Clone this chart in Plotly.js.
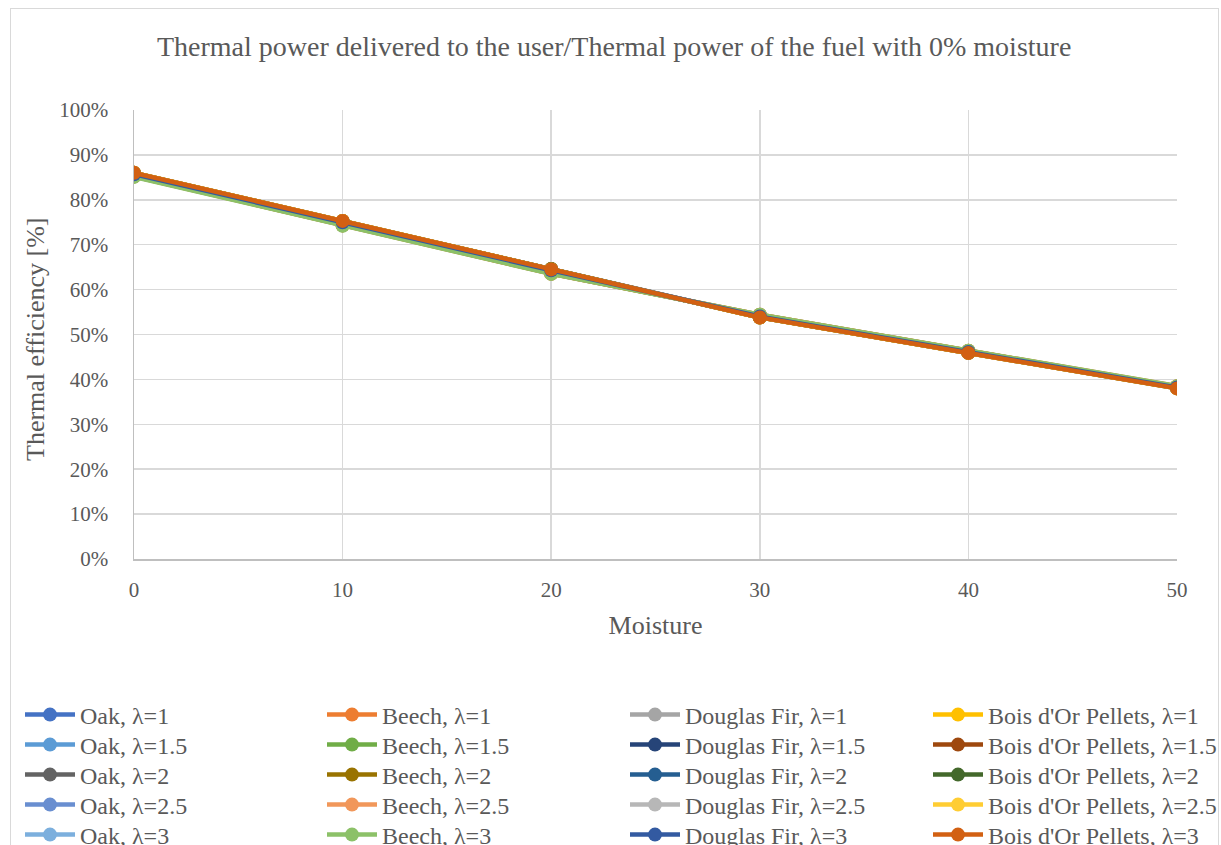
<!DOCTYPE html>
<html>
<head>
<meta charset="utf-8">
<script src="https://cdn.plot.ly/plotly-3.0.1.min.js"></script>
<style>
  html, body { margin: 0; padding: 0; background: #fff; }
  #wrap { position: relative; width: 1221px; height: 845px; overflow: hidden; }
  #chart { position: absolute; left: 0; top: 0; width: 1221px; height: 845px; }
  #frame { position: absolute; left: 10px; top: 8px; width: 1207px; height: 900px;
           border: 1.5px solid #D9D9D9; pointer-events: none; }
</style>
</head>
<body>
<div id="wrap">
  <div id="chart"></div>
  <div id="frame"></div>
</div>
<script>
// Moisture [%]
const moisture = [0, 10, 20, 30, 40, 50];

// Thermal efficiency [%] (curves overlap closely)
const oak_l1   = [85.6, 74.9, 64.2, 54.0, 46.1, 38.2];
const oak_l15  = [85.6, 74.8, 64.1, 54.0, 46.1, 38.2];
const oak_l2   = [85.5, 74.8, 64.1, 54.1, 46.1, 38.2];
const oak_l25  = [85.5, 74.7, 64.0, 54.1, 46.2, 38.3];
const oak_l3   = [85.4, 74.7, 64.0, 54.1, 46.2, 38.3];

const beech_l1  = [85.3, 74.4, 63.7, 54.3, 46.3, 38.4];
const beech_l15 = [85.3, 74.4, 63.6, 54.3, 46.3, 38.4];
const beech_l2  = [85.2, 74.3, 63.6, 54.4, 46.4, 38.4];
const beech_l25 = [85.2, 74.3, 63.5, 54.4, 46.4, 38.5];
const beech_l3  = [85.1, 74.2, 63.5, 54.4, 46.4, 38.5];

const fir_l1   = [85.8, 75.1, 64.4, 53.9, 46.0, 38.1];
const fir_l15  = [85.8, 75.1, 64.4, 53.9, 46.0, 38.1];
const fir_l2   = [85.7, 75.0, 64.3, 53.9, 46.0, 38.2];
const fir_l25  = [85.7, 75.0, 64.3, 54.0, 46.1, 38.2];
const fir_l3   = [85.7, 75.0, 64.3, 54.0, 46.1, 38.2];

const bois_l1  = [86.0, 75.3, 64.6, 53.8, 45.9, 38.1];
const bois_l15 = [86.0, 75.3, 64.6, 53.8, 45.9, 38.1];
const bois_l2  = [86.0, 75.3, 64.6, 53.8, 45.9, 38.0];
const bois_l25 = [86.0, 75.3, 64.5, 53.8, 45.9, 38.0];
const bois_l3  = [86.0, 75.3, 64.5, 53.8, 45.9, 38.0];

const yTickVals  = [0, 10, 20, 30, 40, 50, 60, 70, 80, 90, 100];
const yTickText  = ['0%','10%','20%','30%','40%','50%','60%','70%','80%','90%','100%'];
const xTickVals  = [0, 10, 20, 30, 40, 50];

// Series in the order Excel stored them (legend is row-major): name, values, colour, legend row, legend column
const series = [
  ['Oak, λ=1', oak_l1, '#4472C4', 0, 0],
  ['Beech, λ=1', beech_l1, '#ED7D31', 0, 1],
  ['Douglas Fir, λ=1', fir_l1, '#A5A5A5', 0, 2],
  ["Bois d'Or Pellets, λ=1", bois_l1, '#FFC000', 0, 3],
  ['Oak, λ=1.5', oak_l15, '#5B9BD5', 1, 0],
  ['Beech, λ=1.5', beech_l15, '#70AD47', 1, 1],
  ['Douglas Fir, λ=1.5', fir_l15, '#264478', 1, 2],
  ["Bois d'Or Pellets, λ=1.5", bois_l15, '#9E480E', 1, 3],
  ['Oak, λ=2', oak_l2, '#636363', 2, 0],
  ['Beech, λ=2', beech_l2, '#997300', 2, 1],
  ['Douglas Fir, λ=2', fir_l2, '#255E91', 2, 2],
  ["Bois d'Or Pellets, λ=2", bois_l2, '#43682B', 2, 3],
  ['Oak, λ=2.5', oak_l25, '#698ED0', 3, 0],
  ['Beech, λ=2.5', beech_l25, '#F1975A', 3, 1],
  ['Douglas Fir, λ=2.5', fir_l25, '#B7B7B7', 3, 2],
  ["Bois d'Or Pellets, λ=2.5", bois_l25, '#FFCD33', 3, 3],
  ['Oak, λ=3', oak_l3, '#7CAFDD', 4, 0],
  ['Beech, λ=3', beech_l3, '#8CC168', 4, 1],
  ['Douglas Fir, λ=3', fir_l3, '#335AA1', 4, 2],
  ["Bois d'Or Pellets, λ=3", bois_l3, '#D26012', 4, 3]
];

const FONT = 'Liberation Serif, Times New Roman, serif';
const TXT = '#595959';
const W = 1221, H = 845;

// legend entry placement (pixels)
const colX = [20, 322, 625, 928];
const rowY = [715, 745, 775, 805, 835];

const legendId = i => (i === 0 ? 'legend' : 'legend' + (i + 1));

const traces = series.map((s, i) => ({
  type: 'scatter',
  mode: 'lines+markers',
  name: s[0],
  x: moisture,
  y: s[1],
  legend: legendId(i),
  line: { color: s[2], width: 4.5 },
  marker: { color: s[2], size: 14 }
}));

function leg(xpx, ypx) {
  return {
    xref: 'container', yref: 'container',
    x: xpx / W, xanchor: 'left',
    y: 1 - ypx / H, yanchor: 'middle',
    orientation: 'v',
    font: { family: FONT, size: 24, color: TXT },
    bgcolor: 'rgba(0,0,0,0)',
    itemwidth: 50
  };
}

const layout = {
  width: W, height: H,
  paper_bgcolor: '#ffffff', plot_bgcolor: '#ffffff',
  margin: { l: 134, r: 44, t: 110, b: 286, autoexpand: false },
  font: { family: FONT, color: TXT, size: 21 },
  title: {
    text: 'Thermal power delivered to the user/Thermal power of the fuel with 0% moisture',
    font: { family: FONT, size: 28, color: TXT },
    xref: 'container', x: 0.503, xanchor: 'center',
    yref: 'container', y: 1 - 46 / H, yanchor: 'middle'
  },
  xaxis: {
    range: [0, 50], tickvals: xTickVals, ticks: '',
    showgrid: true, gridcolor: '#D9D9D9', gridwidth: 1.5,
    showline: true, linecolor: '#BFBFBF', linewidth: 1.5,
    zeroline: false, ticklabelstandoff: 11,
    tickfont: { family: FONT, size: 21, color: TXT },
    title: { text: 'Moisture', font: { family: FONT, size: 26, color: TXT }, standoff: 15 }
  },
  yaxis: {
    range: [0, 100], tickvals: yTickVals, ticktext: yTickText, ticks: '',
    showgrid: true, gridcolor: '#D9D9D9', gridwidth: 1.5,
    showline: true, linecolor: '#BFBFBF', linewidth: 1.5,
    zeroline: false, ticklabelstandoff: 20,
    tickfont: { family: FONT, size: 21, color: TXT }
  },
  annotations: [{
    text: 'Thermal efficiency [%]',
    xref: 'paper', yref: 'paper',
    x: (35 - 134) / 1043, y: (559 - 339) / 449,
    xanchor: 'center', yanchor: 'middle',
    textangle: -90, showarrow: false,
    font: { family: FONT, size: 26, color: TXT }
  }],
  showlegend: true
};

series.forEach((s, i) => {
  layout[legendId(i)] = leg(colX[s[4]], rowY[s[3]]);
});

Plotly.newPlot('chart', traces, layout, { displayModeBar: false, staticPlot: true });
</script>
</body>
</html>
